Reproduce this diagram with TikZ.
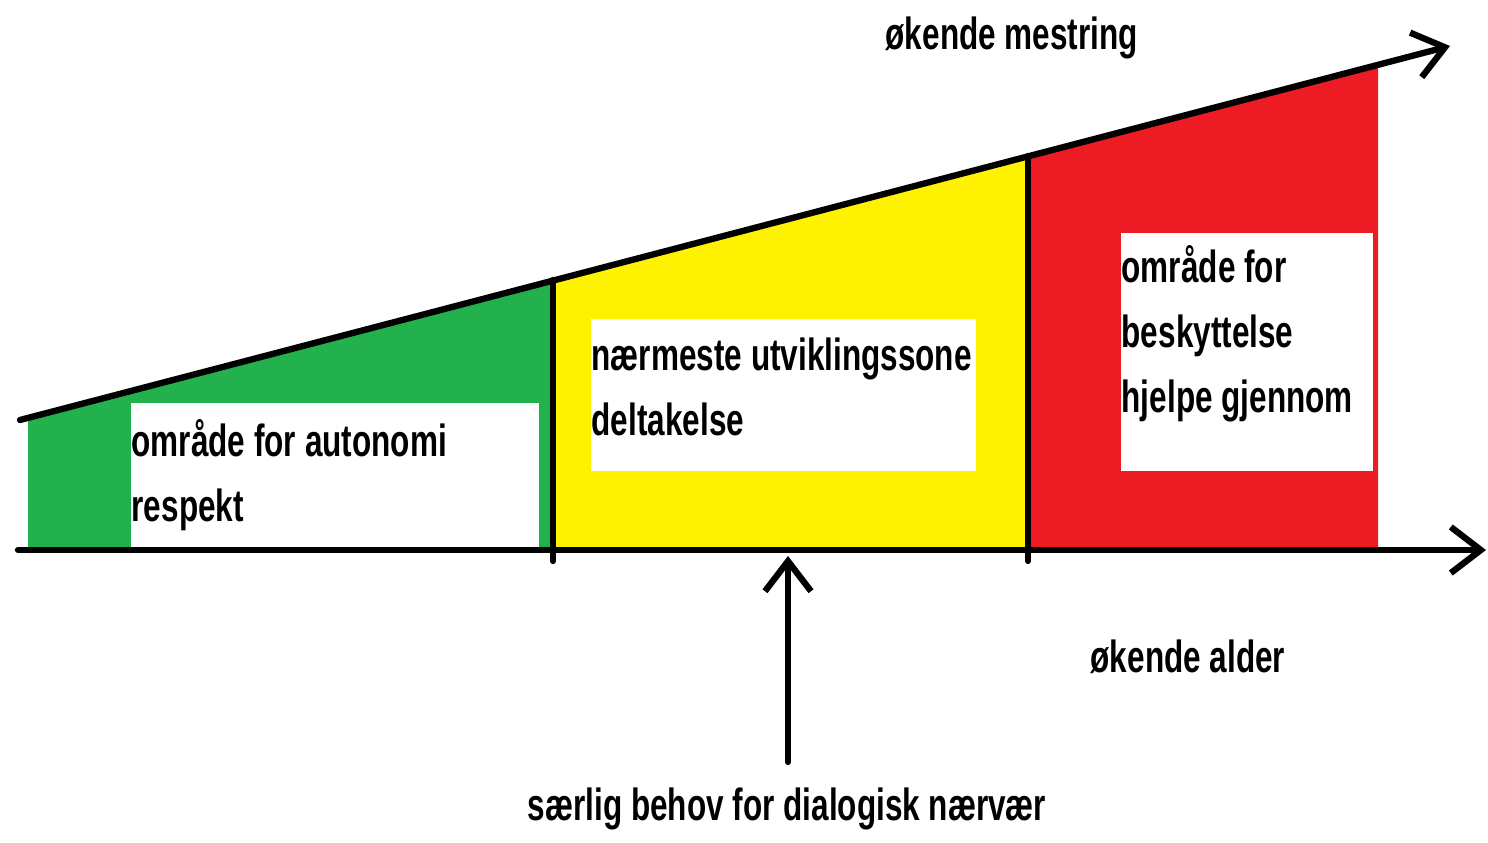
\documentclass[tikz,border=0pt]{standalone}
\usepackage{fontspec}
\setmainfont{Liberation Sans}[FakeStretch=0.7]
\usepackage{tikz}
\usetikzlibrary{positioning, arrows.meta}
\definecolor{paintgreen}{RGB}{34,177,76}
\definecolor{paintyellow}{RGB}{255,242,0}
\definecolor{paintred}{RGB}{237,28,36}

\begin{document}
\begin{tikzpicture}[
    x=0.01cm, y=-0.01cm,
    every node/.style={font=\bfseries\fontsize{12.8}{18.4}\selectfont, inner sep=0pt},
    whitebox/.style={
        rectangle,
        fill=white,
        anchor=north west
    },
    boxtext/.style={
        align=left,
        anchor=north west
    },
    axis/.style={line width=1.8pt, line cap=round},
    arrow/.style={-{Straight Barb[length=3mm, width=4.6mm]}, line width=1.8pt, line cap=round}
]
\useasboundingbox (0,0) rectangle (1488,843);

% axes
\coordinate (origin) at (18,550);
\coordinate (xtip) at (1486,550);
\coordinate (slopestart) at (20,420);
\coordinate (slopetip) at (1450,46);

% coloured zones
\fill[paintgreen] (28,550) -- (28,418) -- (553,280) -- (553,550) -- cycle;
\fill[paintyellow] (553,550) -- (553,280) -- (1028,156) -- (1028,550) -- cycle;
\fill[paintred] (1028,550) -- (1028,156) -- (1378,64) -- (1378,550) -- cycle;

% white boxes
\node[whitebox, minimum width=4.08cm, minimum height=1.46cm] (autbox) at (130,402) {};
\node[whitebox, minimum width=3.85cm, minimum height=1.52cm] (sonebox) at (590,318) {};
\node[whitebox, minimum width=2.52cm, minimum height=2.38cm] (vernbox) at (1120,232) {};

\node[boxtext] (auttext) at (131,419) {område for autonomi\\respekt};
\node[boxtext] (sonetext) at (591,337) {nærmeste utviklingssone\\deltakelse};
\node[boxtext] (verntext) at (1121,245) {område for\\beskyttelse\\hjelpe gjennom};

% zone borders
\coordinate (b1top) at (553,280);
\coordinate (b1foot) at (553,561);
\coordinate (b2top) at (1028,156);
\coordinate (b2foot) at (1028,561);
\draw[axis] (b1top) -- (b1foot);
\draw[axis] (b2top) -- (b2foot);

\draw[arrow] (origin) -- (xtip);
\draw[arrow] (slopestart) -- (slopetip);

% need for presence
\coordinate (needfoot) at (788,762);
\coordinate (needtip) at (788,556);
\draw[arrow] (needfoot) -- (needtip);

\node[anchor=base west] (mestring) at (885,50) {økende mestring};
\node[anchor=base west] (alder) at (1090,672) {økende alder};
\node[anchor=base] (behov) at (787,820) {særlig behov for dialogisk nærvær};

\end{tikzpicture}
\end{document}
